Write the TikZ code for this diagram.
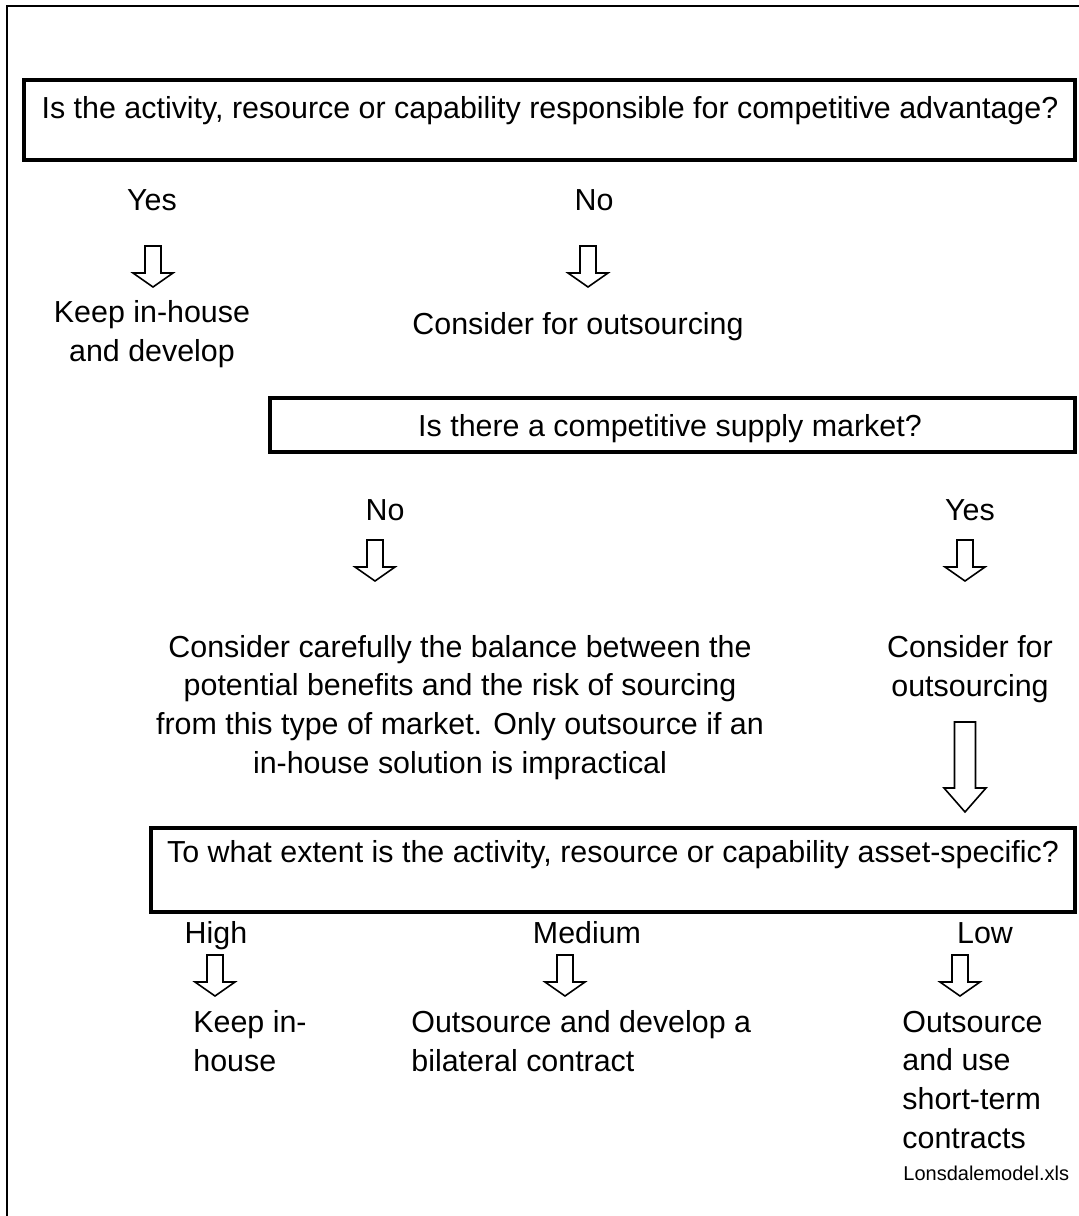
\documentclass[tikz,border=0pt]{standalone}
\usepackage{fontspec}
\setmainfont{Liberation Sans}
\begin{document}
\begin{tikzpicture}[x=0.5pt,y=-0.5pt,
  txt/.style={font=\fontsize{15.2}{19.3}\selectfont, inner sep=0pt, anchor=base},
  small/.style={font=\fontsize{10}{12}\selectfont, inner sep=0pt, anchor=base west},
  qbox/.style={draw, line width=2pt},
  frame/.style={draw, line width=1pt},
  hollow/.style={draw, line width=0.8pt, fill=white, line join=miter},
]
% hollow block arrow: centre x, shaft top, head base, tip, shaft half-width, head half-width
\newcommand\blockarrow[6]{%
  \draw[hollow] (#1-#5,#2) -- (#1+#5,#2) -- (#1+#5,#3) -- (#1+#6,#3) -- (#1,#4)
    -- (#1-#6,#3) -- (#1-#5,#3) -- cycle;}
\useasboundingbox (0,0) rectangle (1079,1216);
\draw[frame] (6.5,1216) -- (6.5,5.5) -- (1079,5.5);

% first question
\draw[qbox] (24,80) rectangle (1075,160);
\node[txt] (q1) at (550,118) {Is the activity, resource or capability responsible for competitive advantage?};
\node[txt] (yes1) at (152,210) {Yes};
\node[txt] (no1) at (594,210) {No};
\blockarrow{153}{246}{273}{287}{8}{20}
\blockarrow{588}{246}{273}{287}{8}{20}
% multi-line nodes are placed by the baseline of their last line
\node[txt, align=center] (keep1) at (152,361.5) {Keep in-house\\and develop};
\node[txt] (out1) at (578,334) {Consider for outsourcing};

% second question
\draw[qbox] (270,398) rectangle (1075,452);
\node[txt] (q2) at (670,436) {Is there a competitive supply market?};
\node[txt] (no2) at (385,520) {No};
\node[txt] (yes2) at (970,520) {Yes};
\blockarrow{375}{540}{567}{581}{8}{20}
\blockarrow{965}{540}{567}{581}{8}{20}
\node[txt, align=center] (bal) at (460,773) {Consider carefully the balance between the\\potential benefits and the risk of sourcing\\from this type of market. Only outsource if an\\in-house solution is impractical};
\node[txt, align=center] (out2) at (970,696) {Consider for\\outsourcing};
\blockarrow{965}{722}{788}{812}{10.5}{21}

% third question
\draw[qbox] (151,828) rectangle (1075,912);
\node[txt] (q3) at (613,862) {To what extent is the activity, resource or capability asset-specific?};
\node[txt] (high) at (216,943) {High};
\node[txt] (med) at (587,943) {Medium};
\node[txt] (low) at (985,943) {Low};
\blockarrow{215}{955}{982}{996}{8}{20}
\blockarrow{565}{955}{982}{996}{8}{20}
\blockarrow{960}{955}{982}{996}{8}{20}
\node[txt, anchor=base west, align=left] (keep2) at (193,1071) {Keep in-\\house};
\node[txt, anchor=base west, align=left] (bil) at (411,1071) {Outsource and develop a\\bilateral contract};
\node[txt, anchor=base west, align=left] (short) at (902,1148) {Outsource\\and use\\short-term\\contracts};
\node[small] (file) at (903,1180) {Lonsdalemodel.xls};
\end{tikzpicture}
\end{document}
